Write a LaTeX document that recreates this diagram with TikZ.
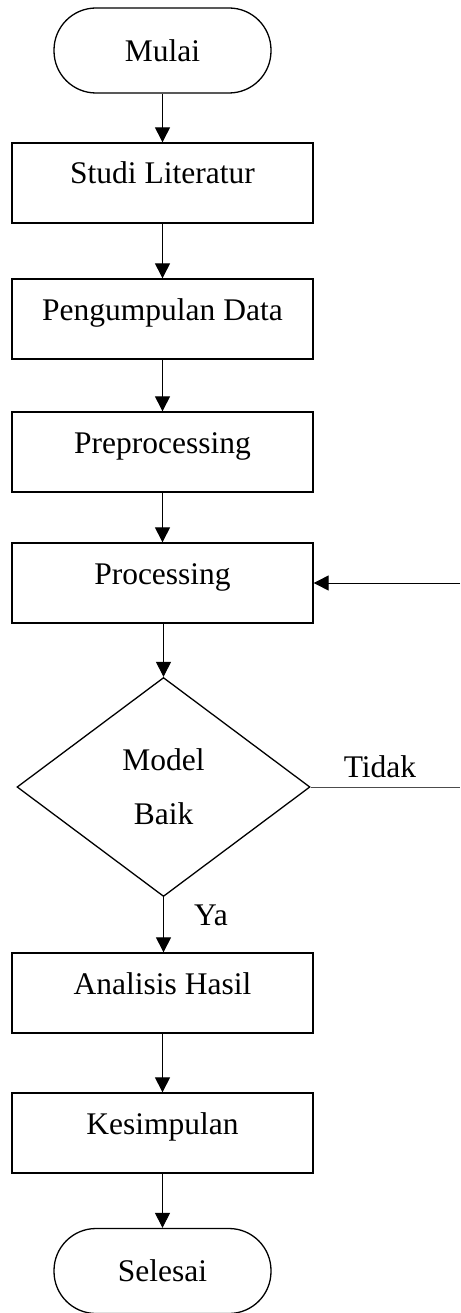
\documentclass[tikz,border=0pt]{standalone}
\usepackage{fontspec}
\setmainfont{Liberation Serif}
\usetikzlibrary{shapes.geometric,arrows.meta}
\begin{document}
\begin{tikzpicture}[x=1pt,y=-1pt,
  every node/.style={font=\fontsize{31.5}{38}\selectfont},
  procbox/.style={draw,line width=1.3pt,minimum width=301pt,minimum height=80pt,inner sep=0pt,text height=20pt,text depth=18pt},
  term/.style={draw,line width=1.3pt,minimum width=217pt,minimum height=85pt,inner sep=0pt,rounded corners=42pt},
  decision/.style={draw,line width=1.3pt,shape=diamond,minimum width=293pt,minimum height=219pt,inner sep=0pt,align=center},
  flow/.style={line width=1pt,-{Triangle[width=15pt,length=15pt]}},
  lbl/.style={inner sep=0pt,anchor=base}
]
\useasboundingbox (0,0) rectangle (460,1313);
\node[term] (mulai) at (162.5,50.5) {Mulai};
\node[procbox] (studi) at (162.5,183) {Studi Literatur};
\node[procbox] (kumpul) at (162.5,319) {Pengumpulan Data};
\node[procbox] (pre) at (162.5,452) {Preprocessing};
\node[procbox] (proc) at (162.5,583) {Processing};
\node[decision] (model) at (163.5,787) {Model\\[16pt]Baik};
\node[procbox] (analisis) at (162.5,993) {Analisis Hasil};
\node[procbox] (simpul) at (162.5,1133) {Kesimpulan};
\node[term] (selesai) at (162.5,1271) {Selesai};
\coordinate (tr) at (460,787);
\coordinate (pr) at (460,583);
\draw[flow] (mulai) -- (studi);
\draw[flow] (studi) -- (kumpul);
\draw[flow] (kumpul) -- (pre);
\draw[flow] (pre) -- (proc);
\draw[flow] (proc.south -| model.north) -- (model.north);
\draw[flow] (model.south) -- (analisis.north -| model.south);
\draw[flow] (analisis) -- (simpul);
\draw[flow] (simpul) -- (selesai);
\draw[line width=1pt,black!70] (model.east) -- (tr);
\draw[flow] (pr) -- (proc.east);
\node[lbl] (tidak) at (380,777) {Tidak};
\node[lbl] (ya) at (211,925) {Ya};
\end{tikzpicture}
\end{document}
